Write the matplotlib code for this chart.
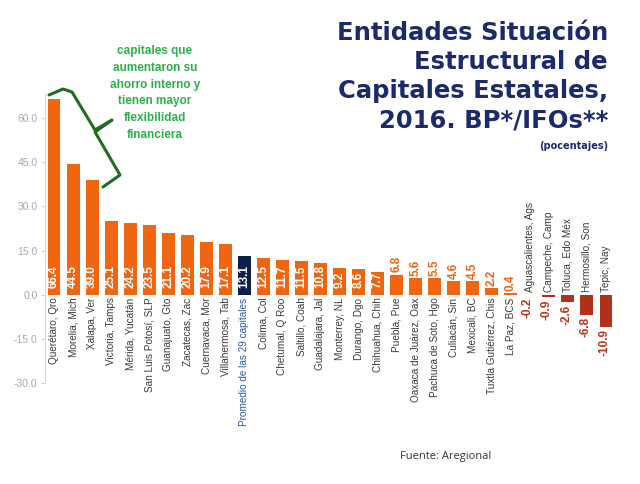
import matplotlib
matplotlib.use("Agg")
import matplotlib.pyplot as plt
from matplotlib.lines import Line2D

categories = ["Querétaro, Qro", "Morelia, Mich", "Xalapa, Ver", "Victoria, Tamps",
              "Mérida, Yucatán", "San Luis Potosí, SLP", "Guanajuato, Gto", "Zacatecas, Zac",
              "Cuernavaca, Mor", "Villahermosa, Tab", "Promedio de las 29 capitales",
              "Colima, Col", "Chetumal, Q Roo", "Saltillo, Coah", "Guadalajara, Jal",
              "Monterrey, NL", "Durango, Dgo", "Chihuahua, Chih", "Puebla, Pue",
              "Oaxaca de Juárez, Oax", "Pachuca de Soto, Hgo", "Culiacán, Sin",
              "Mexicali, BC", "Tuxtla Gutiérrez, Chis", "La Paz, BCS",
              "Aguascalientes, Ags", "Campeche, Camp", "Toluca, Edo Méx",
              "Hermosillo, Son", "Tepic, Nay"]
values = [66.4, 44.5, 39.0, 25.1, 24.2, 23.5, 21.1, 20.2, 17.9, 17.1, 13.1,
          12.5, 11.7, 11.5, 10.8, 9.2, 8.6, 7.7, 6.8, 5.6, 5.5, 4.6, 4.5, 2.2, 0.4,
          -0.2, -0.9, -2.6, -6.8, -10.9]
yticks = [-30.0, -15.0, 0.0, 15.0, 30.0, 45.0, 60.0]
avg_label = "Promedio de las 29 capitales"

ORANGE = "#f0650f"
NAVY = "#0e1f47"
DARKRED = "#b0301a"
REDTXT = "#b8351a"
TITLE = "#1b2a6b"
GREEN = "#2bb04a"
BRACE = "#1f6e1f"

plt.rcParams['font.family'] = ['Liberation Sans', 'DejaVu Sans']

fig = plt.figure(figsize=(6.4, 4.84), dpi=100)
ax = fig.add_axes([44.5 / 640, 101 / 484, 571 / 640, 290 / 484])

x = list(range(len(values)))
colors = []
for c, v in zip(categories, values):
    if c == avg_label:
        colors.append(NAVY)
    elif v < 0:
        colors.append(DARKRED)
    else:
        colors.append(ORANGE)
ax.bar(x, values, width=0.68, color=colors, zorder=2)

for i, (c, v) in enumerate(zip(categories, values)):
    lab = f"{v:.1f}"
    if v >= 0:
        ax.text(i, -1.0, c, rotation=90, ha='center', va='top', fontsize=7.2,
                color="#2e5a9c" if c == avg_label else "#3a3a3a")
        if v >= 7:
            ax.text(i, 2.4, lab, rotation=90, ha='center', va='bottom', fontsize=8.5,
                    fontweight='bold', color='white')
        else:
            ax.text(i, v + 0.8, lab, rotation=90, ha='center', va='bottom', fontsize=8.5,
                    fontweight='bold', color=ORANGE)
    else:
        ax.text(i, 0.8, c, rotation=90, ha='center', va='bottom', fontsize=7.2,
                color="#3a3a3a")
        ax.text(i - 0.1, v - 0.8, lab, rotation=90, ha='center', va='top', fontsize=8.5,
                fontweight='bold', color=REDTXT)

ax.set_xlim(-0.5, len(values) - 0.5)
ax.set_ylim(-30, 68.5)
ax.set_yticks(yticks)
ax.set_yticklabels([f"{t:.1f}" for t in yticks], fontsize=7.5, color="#a8a8a8")
ax.tick_params(axis='y', length=3, color="#d0d0d0", pad=2)
ax.set_xticks([])
for s in ['top', 'right', 'bottom']:
    ax.spines[s].set_visible(False)
ax.spines['left'].set_color("#d8d8d8")

# title
title_lines = ["Entidades Situación", "Estructural de", "Capitales Estatales,", "2016. BP*/IFOs**"]
for k, t in enumerate(title_lines):
    fig.text(608 / 640, 1 - (40 + 29 * k) / 484, t, ha='right', va='baseline',
             fontsize=17.5, fontweight='bold', color=TITLE, family=['DejaVu Sans'])
fig.text(608 / 640, 1 - 149 / 484, "(pocentajes)", ha='right', va='baseline',
         fontsize=7, fontweight='bold', color=TITLE, family=['DejaVu Sans'])

# green annotation
green_lines = ["capitales que", "aumentaron su", "ahorro interno y", "tienen mayor",
               "flexibilidad", "financiera"]
for k, t in enumerate(green_lines):
    fig.text(155 / 640, 1 - (54 + 16.8 * k) / 484, t, ha='center', va='baseline',
             fontsize=8.5, fontweight='bold', color=GREEN)

bx = [49, 63, 72, 95, 112, 95, 120, 103]
by = [95, 89, 92, 130, 120, 132, 175, 187]
fig.add_artist(Line2D([p / 640 for p in bx], [1 - p / 484 for p in by],
                      transform=fig.transFigure, color=BRACE, lw=2.2,
                      solid_joinstyle='round', solid_capstyle='round'))

fig.text(400 / 640, 1 - 459 / 484, "Fuente: Aregional", ha='left', va='baseline',
         fontsize=8, color="#333333", family=['Open Sans', 'DejaVu Sans'])

fig.savefig("out.png", dpi=100)
